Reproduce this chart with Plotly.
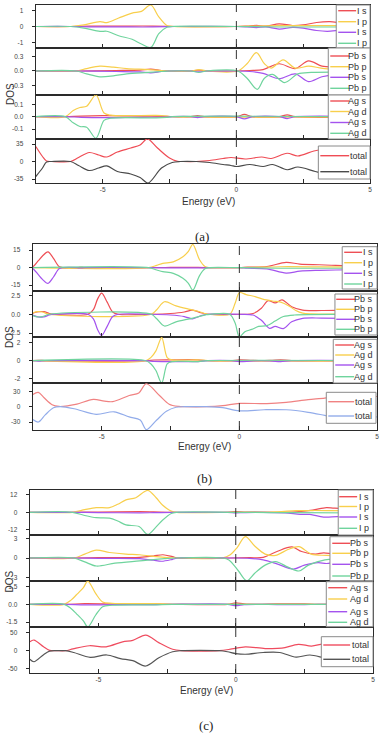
import plotly.graph_objects as go

W, H = 383, 736

# ------------------------------------------------------------------ data
# Each series: list of (Energy eV, DOS) points.
energy_range = [-7.5, 5]
xtick_vals = [-5, -2.5, 0, 2.5, 5]
xtick_text = ["-5", "", "0", "", "5"]

# ---- panel (a)
a_I_s_up = [(-7.5, 0), (-6.2, 0), (-5.5, 0.02), (-4.5, 0.02), (-3.5, 0.03), (-2.6, 0.01), (-2.3, 0), (0, 0),
            (0.4, 0.03), (0.75, 0.07), (1.1, 0.02), (1.6, 0.17), (2.1, 0.06), (2.5, 0.1), (3.0, 0.25), (3.5, 0.3),
            (4.0, 0.22), (5, 0.2)]
a_I_p_up = [(-7.5, 0), (-6.2, 0), (-5.7, 0.1), (-5.1, 0.31), (-4.85, 0.24), (-4.4, 0.53), (-3.9, 0.84), (-3.55, 0.95),
            (-3.2, 1.35), (-2.9, 0.6), (-2.6, 0.06), (-2.35, 0), (0, 0), (0.8, 0.03), (1.6, 0.05), (2.5, 0.05), (5, 0.05)]
a_I_s_dn = [(-7.5, 0), (-6.2, 0), (-5.5, -0.02), (-4.5, -0.02), (-3.5, -0.03), (-2.6, -0.01), (-2.3, 0), (0, 0),
            (0.4, -0.03), (0.75, -0.07), (1.1, -0.02), (1.6, -0.16), (2.1, -0.06), (2.5, -0.1), (3.0, -0.25),
            (3.4, -0.3), (4.0, -0.22), (5, -0.2)]
a_I_p_dn = [(-7.5, 0), (-6.2, 0), (-5.7, -0.1), (-5.1, -0.31), (-4.85, -0.3), (-4.4, -0.58), (-3.9, -0.8),
            (-3.55, -1.1), (-3.2, -1.31), (-2.9, -0.45), (-2.6, -0.05), (-2.4, 0), (0, 0), (1.6, -0.03), (5, -0.03)]

a_Pb_s_up = [(-7.5, 0), (-6.0, 0), (-4.5, 0.01), (-3.6, 0.02), (-3.2, 0.04), (-2.8, 0.01), (-2.5, 0), (-1.7, 0),
             (-1.4, 0.02), (-1.1, 0), (0, 0), (0.5, 0.01), (1.0, 0.03), (1.6, 0.15), (2.2, 0.05), (2.7, 0.21),
             (3.2, 0.1), (3.7, 0.08), (5, 0.08)]
a_Pb_p_up = [(-7.5, 0), (-6.0, 0), (-5.6, 0.05), (-5.1, 0.1), (-4.6, 0.08), (-4.1, 0.05), (-3.3, 0.03), (-2.8, 0.01),
             (-2.5, 0), (-1.7, 0), (-1.4, 0.03), (-1.1, 0), (0.05, 0), (0.4, 0.15), (0.75, 0.38), (1.05, 0.15),
             (1.3, 0.06), (1.75, 0.23), (2.2, 0.06), (2.7, 0.1), (3.3, 0.05), (5, 0.05)]
a_Pb_s_dn = [(-7.5, 0), (-6.0, 0), (-4.5, -0.01), (-3.6, -0.02), (-3.2, -0.04), (-2.8, -0.01), (-2.5, 0), (-1.7, 0),
             (-1.4, -0.02), (-1.1, 0), (0, 0), (0.5, -0.01), (1.0, -0.05), (1.6, -0.16), (2.2, -0.06), (2.7, -0.22),
             (3.2, -0.12), (3.7, -0.08), (5, -0.08)]
a_Pb_p_dn = [(-7.5, 0), (-6.0, 0), (-5.6, -0.06), (-5.1, -0.12), (-4.6, -0.1), (-4.1, -0.06), (-3.3, -0.03),
             (-2.8, -0.01), (-2.5, 0), (-1.7, 0), (-1.4, -0.03), (-1.1, 0), (0.05, 0), (0.4, -0.15), (0.78, -0.38),
             (1.05, -0.15), (1.35, -0.07), (1.8, -0.24), (2.3, -0.06), (2.8, -0.03), (5, -0.03)]

a_Ag_s_up = [(-7.5, 0), (-6.4, 0), (-5.8, 0.005), (-5.0, 0.008), (-3.5, 0.005), (-2.6, 0.003), (-2.4, 0), (-1.7, 0),
             (-1.45, 0.008), (-1.2, 0), (0, 0), (0.3, 0.018), (0.6, 0), (1.6, 0), (1.9, 0.015), (2.2, 0), (5, 0)]
a_Ag_d_up = [(-7.5, 0), (-6.4, 0), (-6.1, 0.05), (-5.85, 0.075), (-5.6, 0.085), (-5.25, 0.176), (-4.95, 0.03),
             (-4.7, 0.012), (-3.0, 0.01), (-2.6, 0.005), (-2.4, 0), (5, 0)]
a_Ag_s_dn = [(-7.5, 0), (-6.4, 0), (-5.8, -0.005), (-5.0, -0.008), (-3.5, -0.005), (-2.6, -0.003), (-2.4, 0),
             (-1.7, 0), (-1.45, -0.008), (-1.2, 0), (0, 0), (0.3, -0.018), (0.6, 0), (1.6, 0), (1.9, -0.015),
             (2.2, 0), (5, 0)]
a_Ag_d_dn = [(-7.5, 0), (-6.4, 0), (-6.1, -0.05), (-5.85, -0.08), (-5.6, -0.085), (-5.25, -0.175), (-4.95, -0.03),
             (-4.7, -0.012), (-3.0, -0.01), (-2.6, -0.005), (-2.4, 0), (5, 0)]

a_tot_up = [(-7.5, 30), (-7.25, 10), (-7.1, 1), (-6.9, 0), (-6.2, 0), (-5.9, 8), (-5.5, 18), (-5.15, 13),
            (-4.85, 9), (-4.45, 19), (-3.95, 27), (-3.6, 33), (-3.33, 45), (-2.95, 27), (-2.5, 7), (-2.2, 0.5),
            (-2.0, 0), (-1.5, 0), (-1.0, 2), (-0.5, 6), (-0.2, 8), (0.33, 5), (0.95, 9), (1.3, 6), (1.9, 16.5),
            (2.3, 11), (2.9, 21), (3.3, 24), (5, 25)]
a_tot_dn = [(-7.5, -30), (-7.25, -13), (-7.1, -1), (-6.9, 0), (-6.2, 0), (-5.9, -8), (-5.5, -18), (-5.15, -13),
            (-4.85, -8.6), (-4.45, -20), (-3.95, -25), (-3.6, -32), (-3.3, -43), (-2.8, -13), (-2.4, -2), (-2.1, 0),
            (-1.5, 0), (-1.0, -2), (-0.5, -6), (-0.2, -8), (0.0, -10), (0.5, -6), (1.0, -10), (1.35, -6),
            (1.9, -16.5), (2.3, -11), (2.95, -20), (3.3, -24), (5, -25)]

# ---- panel (b)
b_I_s_up = [(-7.6, 0.3), (-7.5, 0.8), (-7.3, 6), (-7.15, 10), (-6.95, 13.5), (-6.75, 8), (-6.55, 1), (-6.4, 0),
            (-5.9, 0), (-5.8, 0.3), (-5.6, 0), (-3.2, 0), (-2.5, 0.2), (-1.5, 0.2), (-1.0, 0), (0, 0), (0.3, 0.5),
            (1.0, 1), (1.7, 4.6), (2.2, 3), (2.9, 2.5), (3.5, 2), (5, 1.5)]
b_I_p_up = [(-7.5, 0), (-3.3, 0), (-3.0, 2), (-2.78, 3.7), (-2.4, 5), (-2.05, 9.4), (-1.85, 14), (-1.69, 20),
            (-1.45, 7), (-1.25, 1), (-1.1, 0), (0, 0), (0.5, 0.3), (1.5, 0.8), (3, 0.7), (5, 0.5)]
b_I_s_dn = [(-7.6, -0.3), (-7.5, -0.8), (-7.3, -6), (-7.15, -10), (-6.95, -13.5), (-6.75, -8), (-6.55, -1),
            (-6.4, 0), (-5.9, 0), (-5.8, -0.3), (-5.6, 0), (-3.2, 0), (-2.5, -0.2), (-1.5, -0.2), (-1.0, 0), (0, 0),
            (0.3, -0.5), (1.0, -1), (1.7, -4.7), (2.2, -3), (2.9, -2.3), (3.5, -2), (5, -1.5)]
b_I_p_dn = [(-7.5, 0), (-3.3, 0), (-3.0, -2), (-2.78, -3.4), (-2.4, -4.9), (-2.05, -9.1), (-1.85, -13.4),
            (-1.69, -19.3), (-1.45, -7), (-1.25, -1), (-1.1, 0), (0, 0), (1.5, -0.5), (5, -0.5)]

b_Pb_s_up = [(-7.6, 0), (-7.35, 0.3), (-7.1, 0.35), (-6.9, 0.1), (-6.7, 0), (-5.5, 0), (-5.3, 0.6), (-5.15, 2.0),
             (-5.0, 2.8), (-4.8, 1.6), (-4.6, 0.3), (-4.4, 0), (-3.2, 0), (-2.5, 0.1), (-2.0, 0.3), (-1.7, 0.55),
             (-1.4, 0.2), (-1.15, 0), (0, 0), (0.5, 0.1), (0.8, 0.8), (1.05, 1.8), (1.3, 1.5), (1.55, 1.9),
             (1.9, 1.0), (2.3, 0.55), (3.0, 0.5), (5, 0.6)]
b_Pb_p_up = [(-7.6, 0), (-7.35, 0.35), (-7.15, 0.3), (-6.9, 0), (-3.2, 0), (-3.0, 0.6), (-2.72, 1.65), (-2.3, 1.1),
             (-1.8, 0.65), (-1.5, 0.4), (-1.2, 0.05), (-1.05, 0), (-0.35, 0), (-0.15, 1.5), (0.0, 2.85),
             (0.25, 2.6), (0.6, 2.3), (0.85, 2.0), (1.2, 1.75), (1.5, 1.6), (1.8, 1.1), (2.05, 0.5), (2.3, 0.15),
             (2.6, 0.05), (5, 0.05)]
b_Pb_s_dn = [(-7.6, 0), (-7.35, -0.3), (-7.1, -0.35), (-6.9, -0.1), (-6.7, 0), (-5.5, 0), (-5.3, -0.6),
             (-5.15, -2.0), (-5.0, -2.8), (-4.8, -1.6), (-4.6, -0.3), (-4.4, 0), (-3.2, 0), (-2.5, -0.1),
             (-2.0, -0.3), (-1.7, -0.6), (-1.4, -0.2), (-1.15, 0), (0, 0), (0.5, -0.1), (0.8, -0.8), (1.1, -1.85),
             (1.3, -1.6), (1.6, -1.9), (1.9, -1.0), (2.3, -0.55), (3.0, -0.5), (5, -0.6)]
b_Pb_p_dn = [(-7.6, 0), (-7.35, -0.35), (-7.15, -0.3), (-6.9, 0), (-3.2, 0), (-3.0, -0.6), (-2.72, -1.55),
             (-2.3, -1.0), (-1.8, -0.6), (-1.5, -0.35), (-1.2, -0.05), (-1.05, 0), (-0.35, 0), (-0.15, -1.2),
             (0.0, -3.0), (0.2, -2.3), (0.45, -2.0), (0.7, -1.6), (1.0, -1.5), (1.3, -0.9), (1.6, -0.3),
             (2.0, -0.1), (5, -0.05)]

b_Ag_s_up = [(-7.5, 0), (-7.3, 0.05), (-7.0, 0), (-3.4, 0), (-3.1, 0.08), (-2.5, 0.1), (-1.5, 0.1), (-1.15, 0),
             (-0.3, 0), (0, 0.1), (0.4, 0.05), (0.8, 0), (1.2, 0.05), (1.5, 0.1), (1.9, 0), (5, 0)]
b_Ag_d_up = [(-7.5, 0), (-3.4, 0), (-3.2, 0.4), (-3.03, 1.1), (-2.82, 2.6), (-2.62, 0.35), (-2.45, 0.1),
             (-1.5, 0.1), (-1.15, 0), (5, 0)]
b_Ag_s_dn = [(-7.5, 0), (-7.3, -0.05), (-7.0, 0), (-3.4, 0), (-3.1, -0.08), (-2.5, -0.1), (-1.5, -0.1),
             (-1.15, 0), (-0.3, 0), (0, -0.1), (0.4, -0.05), (0.8, 0), (1.2, -0.05), (1.5, -0.1), (1.9, 0), (5, 0)]
b_Ag_d_dn = [(-7.5, 0), (-3.4, 0), (-3.2, -0.4), (-3.03, -1.1), (-2.82, -2.5), (-2.62, -0.35), (-2.45, -0.1),
             (-1.5, -0.1), (-1.15, 0), (5, 0)]

b_tot_up = [(-7.5, 24), (-7.3, 28), (-7.1, 18), (-6.8, 4), (-6.55, 0.5), (-6.2, 2), (-5.9, 5), (-5.3, 14.5),
            (-4.9, 11), (-4.6, 10), (-4.0, 22), (-3.65, 27), (-3.38, 45), (-2.9, 22), (-2.55, 5), (-2.2, 0.5),
            (-2.0, 0), (-1.2, 0), (-0.6, 2), (0, 6.5), (1.0, 6), (1.7, 8.5), (2.5, 14), (3.1, 17), (3.4, 20),
            (5, 20)]
b_tot_dn = [(-7.5, -25), (-7.3, -30), (-7.05, -16), (-6.75, -2), (-6.5, 0), (-6.0, -4), (-5.2, -15), (-4.55, -10),
            (-4.0, -20), (-3.6, -26), (-3.38, -45), (-3.0, -26), (-2.65, -9), (-2.3, -1), (-2.0, 0), (-1.2, 0),
            (-0.6, -2), (0, -8), (0.9, -6), (1.7, -6), (2.5, -11), (3.1, -17), (3.4, -20), (5, -20)]

# ---- panel (c)
c_I_s_up = [(-7.5, 0), (-6.0, 0), (-5.0, 0.2), (-3.5, 0.4), (-3.0, 0.3), (-2.3, 0), (-0.3, 0), (0, 0.4),
            (0.3, 0.2), (1, 0), (2.2, 0.3), (2.8, 1.5), (3.3, 3.2), (3.6, 2.8), (5, 2.5)]
c_I_p_up = [(-7.5, 0), (-5.95, 0), (-5.5, 1.8), (-5.08, 3.2), (-4.6, 3.2), (-4.3, 5.5), (-4.0, 8.5), (-3.64, 10),
            (-3.21, 15), (-2.9, 10), (-2.67, 5), (-2.35, 0.8), (-2.15, 0), (0, 0), (1.5, 0.3), (2.2, 1.1),
            (2.8, 1.2), (3.3, 1.2), (5, 1)]
c_I_s_dn = [(-7.5, 0), (-6.0, 0), (-5.0, -0.2), (-3.5, -0.4), (-3.0, -0.3), (-2.3, 0), (-0.3, 0), (0, -0.4),
            (0.3, -0.2), (1, 0), (1.8, -0.5), (2.35, -1.4), (2.7, -1.5), (3.2, -3.3), (3.7, -3.0), (5, -2.5)]
c_I_p_dn = [(-7.5, 0), (-5.95, 0), (-5.5, -2.2), (-5.08, -3.7), (-4.6, -4), (-4.3, -6), (-4.0, -8.7),
            (-3.52, -9.8), (-3.21, -15.2), (-2.9, -10), (-2.67, -5.5), (-2.35, -0.8), (-2.15, 0), (0, 0),
            (2, -0.3), (5, -0.5)]

c_Pb_s_up = [(-7.5, 0), (-5.9, 0), (-5.0, 0.05), (-3.5, 0.1), (-3.0, 0.3), (-2.65, 0.5), (-2.3, 0.2), (-2.1, 0),
             (-0.2, 0), (0.5, 0.05), (1.0, 0.1), (1.5, 1.0), (2.05, 1.7), (2.4, 1.0), (2.9, 0.6), (3.2, 0.8),
             (3.6, 0.6), (5, 0.5)]
c_Pb_p_up = [(-7.5, 0), (-5.9, 0), (-5.5, 0.6), (-5.08, 1.2), (-4.6, 0.85), (-4.0, 0.6), (-3.5, 0.5), (-2.9, 0.2),
             (-2.5, 0.05), (-2.2, 0), (-0.5, 0), (-0.2, 0.5), (0.05, 1.6), (0.35, 3.3), (0.7, 1.8), (1.07, 0.6),
             (1.45, 0.4), (1.9, 1.3), (2.3, 1.75), (2.75, 0.6), (3.3, 0.4), (5, 0.3)]
c_Pb_s_dn = [(-7.5, 0), (-5.9, 0), (-5.0, -0.05), (-3.5, -0.1), (-3.0, -0.35), (-2.7, -0.5), (-2.3, -0.2),
             (-2.1, 0), (-0.2, 0), (0.5, -0.05), (1.0, -0.3), (1.5, -0.9), (2.1, -1.7), (2.5, -1.1), (3.0, -0.7),
             (3.3, -0.85), (3.7, -0.6), (5, -0.5)]
c_Pb_p_dn = [(-7.5, 0), (-5.9, 0), (-5.5, -0.6), (-5.08, -1.23), (-4.4, -0.8), (-3.5, -0.45), (-2.6, -0.1),
             (-2.2, 0), (-0.5, 0), (-0.25, -0.3), (0.1, -2.0), (0.4, -3.5), (0.7, -2.3), (1.07, -1.1),
             (1.45, -0.55), (1.9, -1.4), (2.3, -2.0), (2.65, -1.1), (3.25, -0.3), (5, -0.2)]

c_Ag_s_up = [(-7.5, 0), (-6.2, 0), (-5.5, 0.05), (-4.5, 0.03), (-3.0, 0.03), (-2.3, 0), (-0.3, 0), (0, 0.12),
             (0.3, 0.03), (0.8, 0), (1.5, 0.03), (2.5, 0.03), (3, 0), (5, 0)]
c_Ag_d_up = [(-7.5, 0), (-6.25, 0), (-6.0, 0.35), (-5.8, 0.8), (-5.55, 1.4), (-5.39, 1.95), (-5.1, 0.9),
             (-4.85, 0.2), (-4.5, 0.08), (-3.0, 0.05), (-2.3, 0), (5, 0)]
c_Ag_s_dn = [(-7.5, 0), (-6.2, 0), (-5.5, -0.05), (-4.5, -0.03), (-3.0, -0.03), (-2.3, 0), (-0.3, 0), (0, -0.12),
             (0.3, -0.03), (0.8, 0), (1.5, -0.03), (2.5, -0.03), (3, 0), (5, 0)]
c_Ag_d_dn = [(-7.5, 0), (-6.25, 0), (-6.0, -0.35), (-5.8, -0.8), (-5.55, -1.4), (-5.39, -1.9), (-5.1, -0.9),
             (-4.85, -0.2), (-4.5, -0.08), (-3.0, -0.05), (-2.3, 0), (5, 0)]

c_tot_up = [(-7.5, 25), (-7.35, 30), (-7.0, 11), (-6.78, 1), (-6.5, 0), (-6.2, 0), (-5.93, 5), (-5.33, 14),
            (-4.72, 11), (-4.12, 25), (-3.75, 29), (-3.28, 44), (-2.79, 22), (-2.3, 4), (-2.0, 0), (-0.6, 0),
            (-0.14, 5), (0.35, 11), (1.07, 6), (1.68, 7), (2.28, 18), (2.76, 13), (3.25, 20), (5, 22)]
c_tot_dn = [(-7.5, -24), (-7.35, -31), (-7.0, -11), (-6.78, -1), (-6.5, 0), (-6.2, 0), (-5.9, -5), (-5.3, -18.5),
            (-4.7, -12), (-4.2, -22), (-3.75, -28), (-3.28, -43), (-2.8, -20), (-2.3, -3), (-2.0, 0), (-0.6, 0),
            (-0.3, -3), (0, -8), (0.35, -10), (1.0, -5), (1.6, -5), (2.2, -18), (2.7, -12), (3.2, -20),
            (3.5, -25), (5, -25)]

# y-axis ranges and tick labels (per subplot)
a_yranges = [[-1.35, 1.35], [-0.497, 0.476], [-0.181, 0.176], [-43, 45]]
a_yticks = [[-1, 0, 1], [-0.3, 0, 0.3], [-0.1, 0, 0.1], [-35, 0, 35]]
a_ytext = [["-1", "0", "1"], ["-0.3", "0.0", "0.3"], ["-0.1", "0.0", "0.1"], ["-35", "0", "35"]]
b_yranges = [[-20, 20.3], [-3.0, 3.07], [-2.5, 2.66], [-45.7, 46.5]]
b_yticks = [[-15, 0, 15], [-2.5, 0, 2.5], [-2, 0, 2], [-30, 0, 30]]
b_ytext = [["-15", "0", "15"], ["-2.5", "0.0", "2.5"], ["-2", "0", "2"], ["-30", "0", "30"]]
c_yranges = [[-15.6, 15.3], [-3.54, 3.54], [-1.91, 1.96], [-62.6, 66.6]]
c_yticks = [[-12, 0, 12], [-3, 0, 3], [-1.5, 0, 1.5], [-50, 0, 50]]
c_ytext = [["-12", "0", "12"], ["-3", "0", "3"], ["-1.5", "0.0", "1.5"], ["-50", "0", "50"]]

# legend labels
I_labels = ["I s", "I p", "I s", "I p"]
Pb_labels = ["Pb s", "Pb p", "Pb s", "Pb p"]
Ag_labels = ["Ag s", "Ag d", "Ag s", "Ag d"]
tot_labels = ["total", "total"]

# ------------------------------------------------------------------ styles
RED, YEL, PUR, GRN = "#ee4f55", "#f8cf4c", "#a453ee", "#6fd49d"
FONT = "Liberation Sans, Arial, sans-serif"
AXC = "#2a2a2a"

panels = [
    dict(tag="(a)", x=(36, 372), ys=[5, 48, 95, 139, 183], yr=a_yranges, yt=a_yticks, ytx=a_ytext,
         series=[[a_I_s_up, a_I_p_up, a_I_s_dn, a_I_p_dn], [a_Pb_s_up, a_Pb_p_up, a_Pb_s_dn, a_Pb_p_dn],
                 [a_Ag_s_up, a_Ag_d_up, a_Ag_s_dn, a_Ag_d_dn], [a_tot_up, a_tot_dn]],
         tot_colors=["#ef4c55", "#4a4a4a"],
         legends=[dict(box=(338, 372, 5, 48), ys=[10.7, 21.7, 32.3, 43.3], line=(340, 358), tr=371),
                  dict(box=(330, 372, 48, 95), ys=[56, 66.7, 77.3, 88.3], line=(332, 351), tr=371),
                  dict(box=(330, 372, 95, 139), ys=[101, 111.5, 122.5, 133.3], line=(332, 351), tr=371),
                  dict(box=(320, 372, 146, 179), ys=[155.7, 171.7], line=(322, 351), tr=371)],
         energy_y=201, energy_x=210, tag_y=236, tag_x=203),
    dict(tag="(b)", x=(33, 379), ys=[244, 291, 337, 383, 430], yr=b_yranges, yt=b_yticks, ytx=b_ytext,
         series=[[b_I_s_up, b_I_p_up, b_I_s_dn, b_I_p_dn], [b_Pb_s_up, b_Pb_p_up, b_Pb_s_dn, b_Pb_p_dn],
                 [b_Ag_s_up, b_Ag_d_up, b_Ag_s_dn, b_Ag_d_dn], [b_tot_up, b_tot_dn]],
         tot_colors=["#f08282", "#92acea"],
         legends=[dict(box=(344, 379, 246.7, 289), ys=[252.3, 262.7, 273.3, 284], line=(346, 364), tr=377),
                  dict(box=(336.7, 379, 294, 335), ys=[299.3, 309.3, 319.3, 329.3], line=(338, 357), tr=377),
                  dict(box=(335, 379, 339.3, 383), ys=[345, 355, 365, 376.7], line=(337, 356), tr=377),
                  dict(box=(328, 378, 392.3, 423.3), ys=[401.7, 416], line=(330, 356), tr=376)],
         energy_y=446, energy_x=206, tag_y=478, tag_x=206),
    dict(tag="(c)", x=(30, 375), ys=[490, 535, 581, 627, 673], yr=c_yranges, yt=c_yticks, ytx=c_ytext,
         series=[[c_I_s_up, c_I_p_up, c_I_s_dn, c_I_p_dn], [c_Pb_s_up, c_Pb_p_up, c_Pb_s_dn, c_Pb_p_dn],
                 [c_Ag_s_up, c_Ag_d_up, c_Ag_s_dn, c_Ag_d_dn], [c_tot_up, c_tot_dn]],
         tot_colors=["#ef4c5f", "#555555"],
         legends=[dict(box=(340, 375, 490, 535), ys=[496.7, 506.5, 517, 528.3], line=(341, 359), tr=373),
                  dict(box=(331.7, 375, 536.7, 580.7), ys=[543.3, 553.3, 564.3, 576], line=(334, 352), tr=373),
                  dict(box=(328, 375, 581.7, 626.7), ys=[587.7, 599, 611.7, 622.3], line=(330, 349), tr=373),
                  dict(box=(323, 375, 636.7, 666.7), ys=[645, 659.3], line=(325, 352), tr=373)],
         energy_y=690, energy_x=208, tag_y=725, tag_x=207),
]
sub_labels = [I_labels, Pb_labels, Ag_labels, tot_labels]


def fx(p):
    return p / W


def fy(p):
    return 1 - p / H


fig = go.Figure()
layout = {}
shapes = []
annotations = []
legend_shapes = []

n = 0
for pan in panels:
    x0, x1 = pan["x"]
    for k in range(4):
        n += 1
        xa = "x" if n == 1 else f"x{n}"
        ya = "y" if n == 1 else f"y{n}"
        xname = "xaxis" if n == 1 else f"xaxis{n}"
        yname = "yaxis" if n == 1 else f"yaxis{n}"
        bottom = k == 3
        layout[xname] = dict(
            domain=[fx(x0), fx(x1)], range=energy_range, anchor=ya,
            tickmode="array", tickvals=xtick_vals, ticktext=xtick_text,
            ticks="inside", ticklen=4, tickwidth=1.2, tickcolor=AXC,
            showline=True, mirror=True, linecolor=AXC, linewidth=1.2,
            showgrid=False, zeroline=False, showticklabels=bottom,
            tickfont=dict(family=FONT, size=6.5, color="#444"),
        )
        yt, yb = pan["ys"][k], pan["ys"][k + 1]
        layout[yname] = dict(
            domain=[fy(yb), fy(yt)], range=pan["yr"][k], anchor=xa,
            tickmode="array", tickvals=pan["yt"][k], ticktext=pan["ytx"][k],
            ticks="outside", ticklen=3, tickwidth=1, tickcolor=AXC, ticklabelstandoff=7,
            showline=True, mirror=True, linecolor=AXC, linewidth=1.2,
            showgrid=False, zeroline=False,
            tickfont=dict(family=FONT, size=6.5, color="#444"),
        )
        sers = pan["series"][k]
        cols = [RED, YEL, PUR, GRN] if k < 3 else pan["tot_colors"]
        for s, c in zip(sers, cols):
            fig.add_trace(go.Scatter(
                x=[p[0] for p in s], y=[p[1] for p in s], xaxis=xa, yaxis=ya, mode="lines",
                line=dict(color=c, width=1.2, shape="spline", smoothing=0.9),
                showlegend=False, hoverinfo="skip"))
        # Fermi level
        shapes.append(dict(type="line", xref=xa, yref=f"{ya} domain", x0=0, x1=0, y0=0, y1=1,
                           line=dict(color="#333", width=1, dash="dash")))
        # legend box
        lg = pan["legends"][k]
        bx0, bx1, by0, by1 = lg["box"]
        legend_shapes.append(dict(type="rect", xref="paper", yref="paper", x0=fx(bx0), x1=fx(bx1),
                                  y0=fy(by1), y1=fy(by0), fillcolor="white",
                                  line=dict(color="#8a8a8a", width=1)))
        for lab, c, ly in zip(sub_labels[k], cols, lg["ys"]):
            legend_shapes.append(dict(type="line", xref="paper", yref="paper", x0=fx(lg["line"][0]),
                                      x1=fx(lg["line"][1]), y0=fy(ly), y1=fy(ly),
                                      line=dict(color=c, width=1.4)))
            annotations.append(dict(text=lab, xref="paper", yref="paper", x=fx(lg["tr"]), y=fy(ly),
                                    xanchor="right", yanchor="middle", showarrow=False,
                                    font=dict(family=FONT, size=9, color="#333")))
    # panel texts
    annotations.append(dict(text="Energy (eV)", xref="paper", yref="paper", x=fx(pan["energy_x"]),
                            y=fy(pan["energy_y"]), xanchor="center", yanchor="middle", showarrow=False,
                            font=dict(family=FONT, size=10, color="#333")))
    annotations.append(dict(text="DOS", xref="paper", yref="paper", x=fx(10),
                            y=fy((pan["ys"][0] + pan["ys"][4]) / 2), xanchor="center", yanchor="middle",
                            textangle=-90, showarrow=False, font=dict(family=FONT, size=10, color="#333")))
    annotations.append(dict(text=pan["tag"], xref="paper", yref="paper", x=fx(pan["tag_x"]), y=fy(pan["tag_y"]),
                            xanchor="center", yanchor="middle", showarrow=False,
                            font=dict(family="Liberation Serif, Times New Roman, serif", size=13, color="#222")))

layout.update(dict(width=W, height=H, autosize=False, margin=dict(l=0, r=0, t=0, b=0),
                   paper_bgcolor="white", plot_bgcolor="white", showlegend=False,
                   shapes=shapes + legend_shapes, annotations=annotations))
fig.update_layout(**layout)
fig.write_html("out.html", config={"displayModeBar": False, "staticPlot": True},
               post_script="document.body.style.margin='0';document.body.style.overflow='hidden';")
